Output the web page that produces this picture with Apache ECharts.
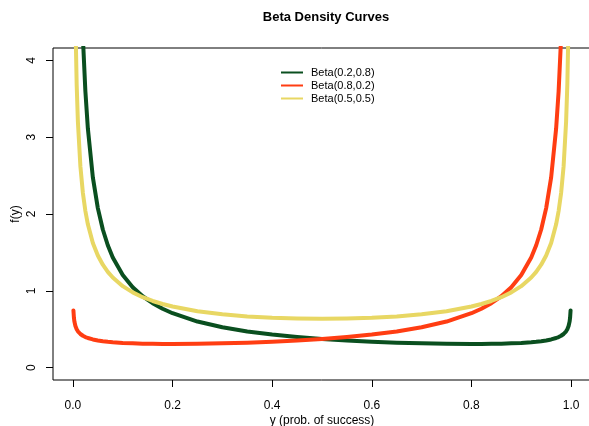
<!DOCTYPE html>
<html>
<head>
<meta charset="utf-8">
<script src="https://cdn.jsdelivr.net/npm/echarts@6/dist/echarts.min.js"></script>
<style>html,body{margin:0;padding:0;background:#fff;}#c{width:589px;height:426px;}</style>
</head>
<body>
<div id="c"></div>
<script>
// y values (probability of success)
const xs = [0.001,0.002,0.003,0.005,0.0075,0.01,0.015,0.02,0.025,0.03,0.04,0.05,0.06,0.07,0.08,0.1,0.12,0.14,0.16,0.18,0.2,0.25,0.3,0.35,0.4,0.45,0.5,
  0.55,0.6,0.65,0.7,0.75,0.8,0.82,0.84,0.86,0.88,0.9,0.92,0.93,0.94,0.95,0.96,0.97,0.975,0.98,0.985,0.99,0.9925,0.995,0.997,0.998,0.999];
// Beta(0.2,0.8)
const greenVals = [47.0,27.01,19.53,12.98,9.392,7.464,5.401,4.295,3.597,3.112,2.477,2.0765,1.7986,1.5933,1.4350,1.2057,1.0468,0.9296,0.8393,0.7675,0.7090,0.6008,0.5264,0.4723,0.4313,0.3994,0.3742,
  0.3541,0.3382,0.3258,0.3166,0.3108,0.3086,0.3090,0.3103,0.3128,0.3167,0.3226,0.3315,0.3375,0.3451,0.3549,0.3680,0.3866,0.3993,0.4158,0.4386,0.4738,0.5008,0.5420,0.5994,0.6495,0.7455];
// Beta(0.8,0.2)
const redVals = [0.7455,0.6495,0.5994,0.5420,0.5008,0.4738,0.4386,0.4158,0.3993,0.3866,0.3680,0.3549,0.3451,0.3375,0.3315,0.3226,0.3167,0.3128,0.3103,0.3090,0.3086,0.3108,0.3166,0.3258,0.3382,0.3541,0.3742,
  0.3994,0.4313,0.4723,0.5264,0.6008,0.7090,0.7675,0.8393,0.9296,1.0468,1.2057,1.4350,1.5933,1.7986,2.0765,2.477,3.112,3.597,4.295,5.401,7.464,9.392,12.98,19.53,27.01,47.0];
// Beta(0.5,0.5)
const yellowVals = [10.07,7.125,5.820,4.513,3.689,3.199,2.619,2.274,2.039,1.866,1.624,1.4605,1.3403,1.2475,1.1733,1.0610,0.9795,0.9174,0.8683,0.8285,0.7958,0.7351,0.6946,0.6674,0.6497,0.6398,0.6366,
  0.6398,0.6497,0.6674,0.6946,0.7351,0.7958,0.8285,0.8683,0.9174,0.9795,1.0610,1.1733,1.2475,1.3403,1.4605,1.624,1.866,2.039,2.274,2.619,3.199,3.689,4.513,5.820,7.125,10.07];
const xTicks = [0,0.2,0.4,0.6,0.8,1.0];
const yTicks = [0,1,2,3,4];
const seriesNames = ['Beta(0.2,0.8)','Beta(0.8,0.2)','Beta(0.5,0.5)'];
const seriesColors = ['#0a4f1f','#ff3d12','#e8d763'];

const pairs = v => xs.map((x,i)=>[x,v[i]]);
const font = 'Liberation Sans, Arial, Helvetica, sans-serif';
const chart = echarts.init(document.getElementById('c'), null, {renderer:'canvas'});
chart.setOption({
  animation:false,
  backgroundColor:'#fff',
  textStyle:{fontFamily:font},
  title:{text:'Beta Density Curves', left:321, textAlign:'center', top:6,
    textStyle:{fontFamily:font, fontWeight:'bold', fontSize:13, color:'#000'}},
  legend:{orient:'vertical', left:281, top:67, padding:0, itemWidth:22, itemHeight:2, itemGap:2,
    icon:'rect', data:seriesNames,
    textStyle:{fontFamily:font, fontSize:11, color:'#000', padding:[0,0,0,3]}},
  grid:{left:53, right:-2, top:48, bottom:46, show:true, borderColor:'#000', borderWidth:1,
    backgroundColor:'transparent', containLabel:false, outerBoundsMode:'none'},
  xAxis:{type:'value', min:-0.04, max:1.04,
    name:'y (prob. of success)', nameLocation:'middle', nameGap:35, nameMoveOverlap:false,
    nameTextStyle:{fontFamily:font, fontSize:12, color:'#000'},
    axisLine:{show:false, onZero:false}, splitLine:{show:false},
    axisTick:{show:true, customValues:xTicks, length:7, lineStyle:{color:'#000'}},
    axisLabel:{customValues:xTicks, formatter:v=>v.toFixed(1), margin:20, fontFamily:font, fontSize:12, color:'#000'}},
  yAxis:{type:'value', min:-0.16, max:4.16,
    name:'f(y)', nameLocation:'middle', nameGap:31, nameRotate:90, nameMoveOverlap:false,
    nameTextStyle:{fontFamily:font, fontSize:12, color:'#000'},
    axisLine:{show:false, onZero:false}, splitLine:{show:false},
    axisTick:{show:true, customValues:yTicks, length:7, lineStyle:{color:'#000'}},
    axisLabel:{customValues:yTicks, rotate:90, formatter:v=>String(Math.round(v)), margin:15, fontFamily:font, fontSize:12, color:'#000'}},
  series:[greenVals, redVals, yellowVals].map((v,i)=>({
    name:seriesNames[i], type:'line', data:pairs(v), showSymbol:false, symbol:'none',
    clip:true, smooth:false, color:seriesColors[i],
    lineStyle:{width:4, color:seriesColors[i], cap:'round', join:'round'}
  }))
});
</script>
</body>
</html>
